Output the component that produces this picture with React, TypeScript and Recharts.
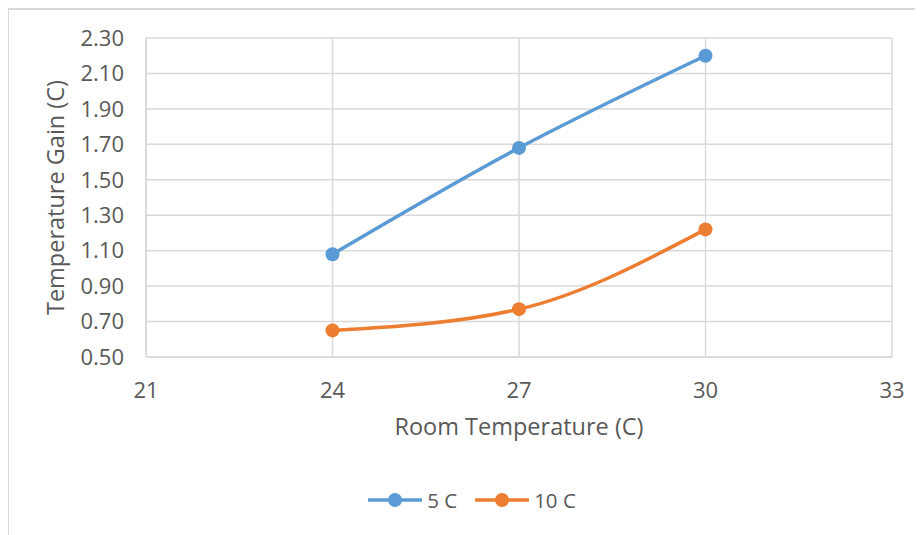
import { CartesianGrid, Line, LineChart, XAxis, YAxis } from 'recharts';

const roomTemps = [24, 27, 30];
const gain5C = [1.08, 1.68, 2.2];
const gain10C = [0.65, 0.77, 1.22];
const xTicks = [21, 24, 27, 30, 33];
const yTicks = [0.5, 0.7, 0.9, 1.1, 1.3, 1.5, 1.7, 1.9, 2.1, 2.3];

const series = [
  { key: 'c5', name: '5 C', color: '#5B9BD5' },
  { key: 'c10', name: '10 C', color: '#ED7D31' },
];

const data = roomTemps.map((t, i) => ({ room: t, c5: gain5C[i], c10: gain10C[i] }));

const FONT = '"Open Sans", sans-serif';
const TEXT = '#595959';

export default function App() {
  return (
    <div
      style={{
        position: 'relative',
        width: 916,
        height: 527,
        marginLeft: -1,
        borderLeft: '2px solid #d9d9d9',
        borderTop: '2px solid #d9d9d9',
        boxSizing: 'border-box',
        fontFamily: FONT,
        overflow: 'hidden',
      }}
    >
      <div style={{ position: 'absolute', left: -2, top: -2 }}>
        <LineChart width={916} height={527} data={data} margin={{ top: 30, right: 31, bottom: 0, left: 0 }}>
          <CartesianGrid stroke="#d9d9d9" strokeWidth={1.5} />
          <XAxis
            dataKey="room"
            type="number"
            domain={[21, 33]}
            ticks={xTicks}
            height={178}
            tickLine={false}
            tickSize={0}
            tickMargin={25}
            axisLine={{ stroke: '#d9d9d9', strokeWidth: 1.5 }}
            tick={{ fill: TEXT, fontSize: 22, fontFamily: FONT }}
            label={{
              content: (p: any) => (
                <text
                  x={p.viewBox.x + p.viewBox.width / 2}
                  y={p.viewBox.y + 72}
                  textAnchor="middle"
                  dominantBaseline="middle"
                  fill={TEXT}
                  fontSize={23.5}
                  fontFamily={FONT}
                >
                  Room Temperature (C)
                </text>
              ),
            }}
          />
          <YAxis
            type="number"
            domain={[0.5, 2.3]}
            ticks={yTicks}
            width={139}
            tickLine={false}
            tickSize={0}
            tickMargin={22}
            axisLine={{ stroke: '#d9d9d9', strokeWidth: 1.5 }}
            tickFormatter={(v: number) => v.toFixed(2)}
            tick={{ fill: TEXT, fontSize: 22, fontFamily: FONT }}
            label={{
              content: (p: any) => {
                const cx = p.viewBox.x + 51;
                const cy = p.viewBox.y + p.viewBox.height / 2;
                return (
                  <text
                    x={cx}
                    y={cy}
                    transform={`rotate(-90 ${cx} ${cy})`}
                    textAnchor="middle"
                    dominantBaseline="middle"
                    fill={TEXT}
                    fontSize={23.5}
                    fontFamily={FONT}
                  >
                    Temperature Gain (C)
                  </text>
                );
              },
            }}
          />
          {series.map((s) => (
            <Line
              key={s.key}
              type="monotone"
              dataKey={s.key}
              name={s.name}
              stroke={s.color}
              strokeWidth={3.5}
              dot={{ r: 7, fill: s.color, stroke: s.color, strokeWidth: 0 }}
              activeDot={false}
              isAnimationActive={false}
            />
          ))}
        </LineChart>
      </div>
      <div
        style={{
          position: 'absolute',
          top: 478,
          left: 0,
          width: '100%',
          display: 'flex',
          justifyContent: 'center',
          gap: 18,
          paddingLeft: 12,
          boxSizing: 'border-box',
        }}
      >
        {series.map((s) => (
          <div key={s.key} style={{ display: 'flex', alignItems: 'center', gap: 5 }}>
            <svg width={54} height={20}>
              <line x1={1} y1={10} x2={53} y2={10} stroke={s.color} strokeWidth={3.5} strokeLinecap="round" />
              <circle cx={27} cy={10} r={7} fill={s.color} />
            </svg>
            <span style={{ color: TEXT, fontSize: 20.5, lineHeight: '24px' }}>{s.name}</span>
          </div>
        ))}
      </div>
    </div>
  );
}
